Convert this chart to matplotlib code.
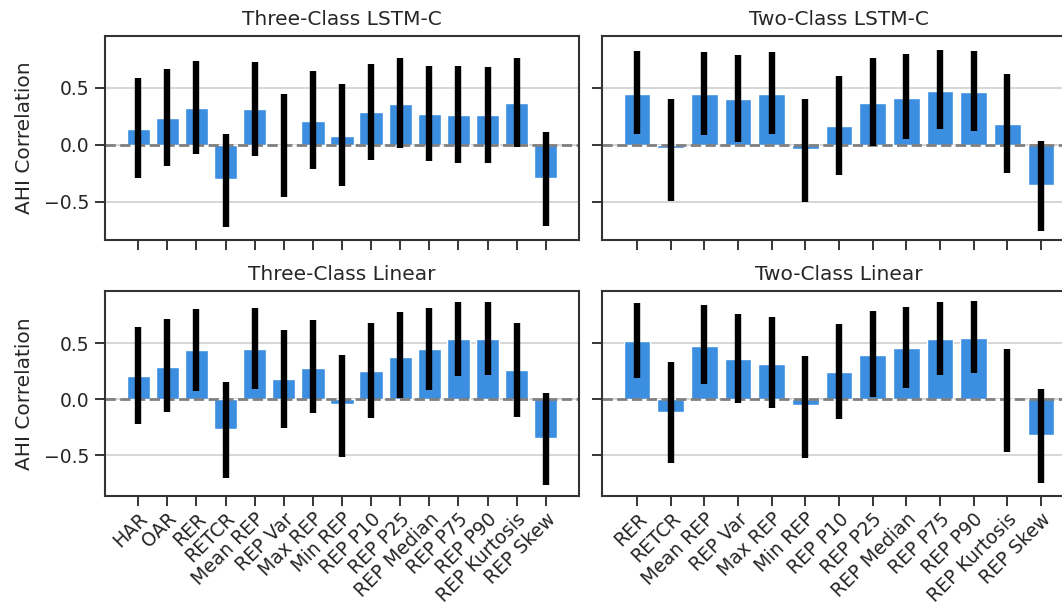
import numpy as np
import matplotlib
matplotlib.use("Agg")
import matplotlib.pyplot as plt

# feature names
feat_three = ["HAR", "OAR", "RER", "RETCR", "Mean REP", "REP Var", "Max REP",
              "Min REP", "REP P10", "REP P25", "REP Median", "REP P75",
              "REP P90", "REP Kurtosis", "REP Skew"]
feat_two = feat_three[2:]

# correlation with AHI and its confidence interval (low, high)
lstm3_r = [0.143, 0.237, 0.327, -0.304, 0.316, 0.000, 0.213, 0.079, 0.289,
           0.357, 0.272, 0.266, 0.263, 0.365, -0.289]
lstm3_lo = [-0.287, -0.184, -0.079, -0.722, -0.094, -0.459, -0.213, -0.365,
            -0.129, -0.029, -0.146, -0.155, -0.161, -0.020, -0.711]
lstm3_hi = [0.590, 0.667, 0.734, 0.094, 0.725, 0.447, 0.646, 0.532, 0.708,
            0.760, 0.693, 0.690, 0.687, 0.763, 0.111]

lstm2_r = [0.450, -0.032, 0.442, 0.398, 0.444, -0.038, 0.164, 0.365, 0.415,
           0.474, 0.465, 0.181, -0.351]
lstm2_lo = [0.099, -0.494, 0.088, 0.026, 0.091, -0.500, -0.266, -0.012,
            0.053, 0.137, 0.123, -0.251, -0.754]
lstm2_hi = [0.819, 0.406, 0.813, 0.787, 0.813, 0.401, 0.608, 0.766, 0.798,
            0.830, 0.827, 0.623, 0.032]

lin3_r = [0.205, 0.289, 0.438, -0.262, 0.449, 0.179, 0.283, -0.045, 0.250,
          0.381, 0.446, 0.536, 0.536, 0.259, -0.345]
lin3_lo = [-0.223, -0.116, 0.074, -0.699, 0.095, -0.253, -0.122, -0.512,
           -0.170, 0.009, 0.086, 0.211, 0.214, -0.158, -0.765]
lin3_hi = [0.643, 0.714, 0.810, 0.158, 0.818, 0.622, 0.705, 0.396, 0.679,
           0.777, 0.818, 0.866, 0.866, 0.685, 0.054]

lin2_r = [0.521, -0.110, 0.479, 0.357, 0.315, -0.051, 0.244, 0.393, 0.455,
          0.536, 0.548, 0.000, -0.315]
lin2_lo = [0.193, -0.571, 0.134, -0.030, -0.080, -0.521, -0.176, 0.024,
           0.098, 0.220, 0.235, -0.470, -0.744]
lin2_hi = [0.860, 0.333, 0.842, 0.762, 0.732, 0.390, 0.676, 0.786, 0.824,
           0.869, 0.875, 0.452, 0.089]

plt.rcParams["font.family"] = "DejaVu Sans"
plt.rcParams["text.color"] = "#262626"
plt.rcParams["axes.labelcolor"] = "#262626"
plt.rcParams["xtick.color"] = "#262626"
plt.rcParams["ytick.color"] = "#262626"

W, H = 1062, 605
fig = plt.figure(figsize=(W / 100, H / 100), dpi=100)


def pix_axes(left, top, right, bottom):
    return fig.add_axes([left / W, 1 - bottom / H, (right - left) / W, (bottom - top) / H])


ax_tl = pix_axes(105, 36, 579, 240)
ax_tr = pix_axes(602, 36, 1076, 240)
ax_bl = pix_axes(105, 291, 579, 496)
ax_br = pix_axes(602, 291, 1076, 496)

panels = [
    (ax_tl, "Three-Class LSTM-C", feat_three, lstm3_r, lstm3_lo, lstm3_hi, (-0.835, 0.955)),
    (ax_tr, "Two-Class LSTM-C", feat_two, lstm2_r, lstm2_lo, lstm2_hi, (-0.835, 0.955)),
    (ax_bl, "Three-Class Linear", feat_three, lin3_r, lin3_lo, lin3_hi, (-0.863, 0.967)),
    (ax_br, "Two-Class Linear", feat_two, lin2_r, lin2_lo, lin2_hi, (-0.863, 0.967)),
]

for i, (ax, title, feats, r, lo, hi, ylim) in enumerate(panels):
    r = np.array(r)
    lo = np.array(lo)
    hi = np.array(hi)
    x = np.arange(len(feats))
    ax.set_axisbelow(True)
    ax.yaxis.grid(True, color="#cccccc", lw=1.1)
    ax.bar(x, r, width=0.8, color="#3b8ee0", edgecolor="white", linewidth=1, zorder=1)
    ax.axhline(0, color="#808080", ls="--", lw=2, zorder=2.5)
    ax.errorbar(x, r, yerr=[r - lo, hi - r], fmt="none", ecolor="black",
                elinewidth=4.6, capsize=0, zorder=3)
    ax.set_ylim(*ylim)
    ax.set_yticks([-0.5, 0.0, 0.5])
    ax.set_xticks(x)
    ax.set_title(title, fontsize=14.5, pad=8)
    for sp in ax.spines.values():
        sp.set_linewidth(1.5)
        sp.set_color("#333333")
    ax.tick_params(axis="both", length=7.5, width=1.3)
    ax.tick_params(axis="y", labelsize=13.5, pad=4)
    ax.tick_params(axis="x", labelsize=13.5, pad=2)
    if i < 2:
        ax.set_xticklabels([])
    else:
        ax.set_xticklabels(feats, rotation=45, ha="right", rotation_mode="anchor")
    if i % 2 == 0:
        ax.set_ylabel("AHI Correlation", fontsize=14.5, labelpad=7)
    else:
        ax.set_yticklabels([])

fig.savefig("out.png", dpi=100)
